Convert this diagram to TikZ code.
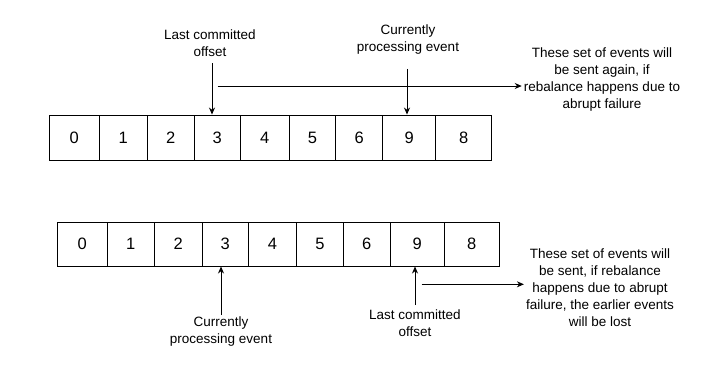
\documentclass[tikz,border=0pt]{standalone}
\usepackage{fontspec}
\setmainfont{Liberation Sans}
\usetikzlibrary{arrows.meta}
\begin{document}
\begin{tikzpicture}[x=1pt,y=-1pt,
  cellbox/.style={draw=black,line width=0.9pt,minimum height=45pt,inner sep=0pt,font=\fontsize{16.5}{19}\selectfont},
  lbl/.style={align=center,inner sep=2pt,font=\fontsize{13.5}{17}\selectfont},
  arr/.style={draw=black,line width=0.9pt,-{Stealth[length=7pt,width=6pt]}}]
\useasboundingbox (0,0) rectangle (705,370);
% top row
\def\toprow{49.3/99.3/0/a0,99.3/147/1/a1,147/194.3/2/a2,194.3/240.3/3/a3,240.3/289/4/a4,289/335.7/5/a5,335.7/382.7/6/a6,382.7/435.7/9/a7,435.7/491.7/8/a8}
\foreach \l/\r/\t/\n in \toprow {
  \node[cellbox,minimum width={\r-\l}] (\n) at ({(\l+\r)/2},137.5) {\t};
}
% bottom row
\def\botrow{57.3/107/0/b0,107/154.3/1/b1,154.3/202.3/2/b2,202.3/248.3/3/b3,248.3/296.7/4/b4,296.7/343.3/5/b5,343.3/390/6/b6,390/444.3/9/b7,444.3/499.3/8/b8}
\foreach \l/\r/\t/\n in \botrow {
  \node[cellbox,minimum height=43.7pt,minimum width={\r-\l}] (\n) at ({(\l+\r)/2},244.2) {\t};
}
% top labels
\node[lbl] (lcoA) at (210,43.5) {Last committed\\offset};
\node[lbl] (cpeA) at (408,40) {Currently\\processing event};
\node[lbl] (rtA) at (602,80) {These set of events will\\be sent again, if\\rebalance happens due to\\abrupt failure};
\coordinate (hsA) at (217.6,86);
\draw[arr,shorten <=4pt] ([xshift=2pt]lcoA.south) -- ([xshift=2pt]lcoA.south |- a3.north);
\draw[arr,shorten <=12pt] ([xshift=-1pt]cpeA.south) -- ([xshift=-1pt]cpeA.south |- a7.north);
\draw[arr] (hsA) -- (rtA.west |- hsA);
% bottom labels
\node[lbl] (cpeB) at (221,332) {Currently\\processing event};
\node[lbl] (lcoB) at (415,322.7) {Last committed\\offset};
\node[lbl] (rtB) at (600,287.7) {These set of events will\\be sent, if rebalance\\happens due to abrupt\\failure, the earlier events\\will be lost};
\coordinate (hsB) at (421.5,284.3);
\draw[arr] (cpeB.north) -- (cpeB.north |- b3.south);
\draw[arr,shorten <=2pt] (lcoB.north) -- (lcoB.north |- b7.south);
\draw[arr] (hsB) -- (rtB.west |- hsB);
\end{tikzpicture}
\end{document}
